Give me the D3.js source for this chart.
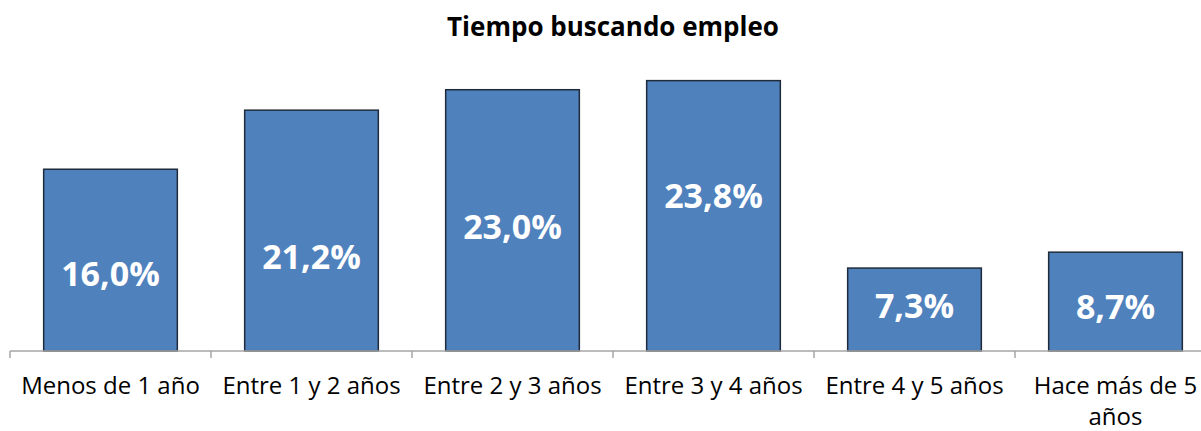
<html>
  <head><meta charset="utf-8"></head>
  <script src="https://d3js.org/d3.v7.min.js"></script>
  <body style="margin:0">
    <script>
      // data
      let categories = ["Menos de 1 año", "Entre 1 y 2 años", "Entre 2 y 3 años", "Entre 3 y 4 años", "Entre 4 y 5 años", "Hace más de 5 años"];
      let values = [16.0, 21.2, 23.0, 23.8, 7.3, 8.7];
      let labels = ["16,0%", "21,2%", "23,0%", "23,8%", "7,3%", "8,7%"];
      let title = "Tiempo buscando empleo";

      let width = 1201;
      let height = 431;
      let font = "'Open Sans', sans-serif";

      let svg = d3.select("body").append("svg")
                  .attr("width", width)
                  .attr("height", height)
                  .style("display", "block");

      let x = d3.scaleBand()
                .domain(categories)
                .range([10, 1216])
                .paddingInner(0.335)
                .paddingOuter(0.1675);
      let step = x.step();
      let bandStart = d => x(d) - step * 0.1675;

      let y = d3.scaleLinear()
                .domain([0, 25])
                .range([351, 67]);

      // where the data labels sit inside each bar (in value units)
      let labelAt = [6.8, 8.3, 10.9, 13.7, 4.0, 3.9];

      // title
      svg.append("text")
         .attr("x", 613)
         .attr("y", 36)
         .attr("text-anchor", "middle")
         .attr("font-family", font)
         .attr("font-weight", "bold")
         .attr("font-size", 26)
         .attr("fill", "#000")
         .text(title);

      // bars
      svg.selectAll("rect.bar")
         .data(values)
         .enter().append("rect")
         .attr("class", "bar")
         .attr("x", (d, i) => x(categories[i]))
         .attr("y", d => y(d))
         .attr("width", x.bandwidth())
         .attr("height", d => y(0) - y(d))
         .attr("fill", "#4F81BD")
         .attr("stroke", "#1F2B3A")
         .attr("stroke-width", 1.5);

      // value labels
      svg.selectAll("text.val")
         .data(labels)
         .enter().append("text")
         .attr("class", "val")
         .attr("x", (d, i) => x(categories[i]) + x.bandwidth() / 2)
         .attr("y", (d, i) => y(labelAt[i]))
         .attr("dy", "0.36em")
         .attr("text-anchor", "middle")
         .attr("font-family", font)
         .attr("font-weight", "bold")
         .attr("font-size", 34)
         .attr("fill", "#fff")
         .text(d => d);

      // axis line and ticks
      svg.append("line")
         .attr("x1", 10).attr("x2", width)
         .attr("y1", y(0)).attr("y2", y(0))
         .attr("stroke", "#A6A6A6")
         .attr("stroke-width", 1.5);
      categories.forEach(c => {
        svg.append("line")
           .attr("x1", bandStart(c)).attr("x2", bandStart(c))
           .attr("y1", y(0)).attr("y2", y(0) + 7)
           .attr("stroke", "#A6A6A6")
           .attr("stroke-width", 1.5);
      });

      // category labels, wrapped to the band width
      categories.forEach(c => {
        let t = svg.append("text")
                   .attr("x", bandStart(c) + step / 2)
                   .attr("y", 394)
                   .attr("text-anchor", "middle")
                   .attr("font-family", font)
                   .attr("font-size", 24)
                   .attr("fill", "#000");
        let words = c.split(" ");
        let line = [];
        let tspan = t.append("tspan").attr("x", bandStart(c) + step / 2);
        words.forEach(w => {
          line.push(w);
          tspan.text(line.join(" "));
          if (tspan.node().getComputedTextLength() > step - 4 && line.length > 1) {
            line.pop();
            tspan.text(line.join(" "));
            line = [w];
            tspan = t.append("tspan")
                     .attr("x", bandStart(c) + step / 2)
                     .attr("dy", 31)
                     .text(w);
          }
        });
      });
    </script>
  </body>
</html>
